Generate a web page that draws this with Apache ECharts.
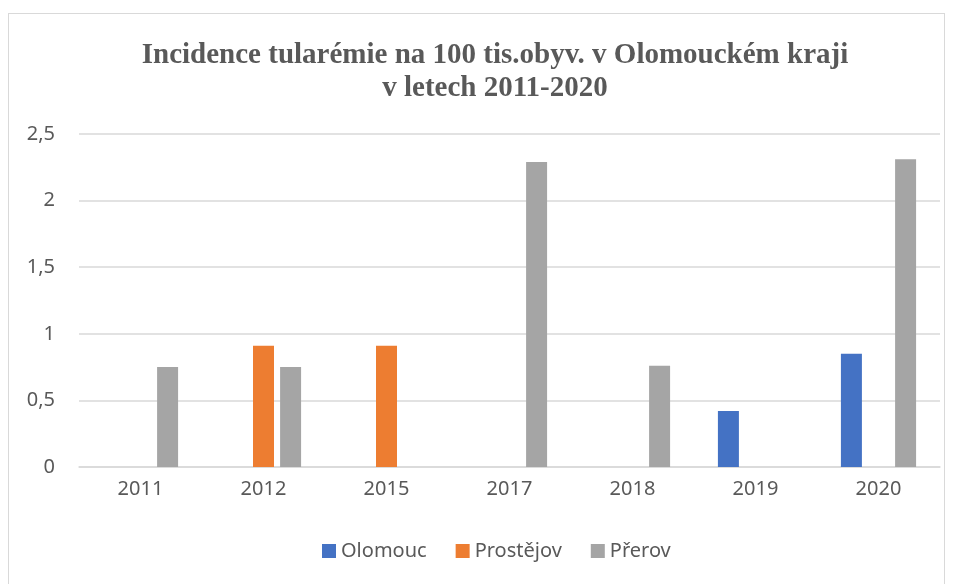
<!DOCTYPE html>
<html>
<head>
<meta charset="utf-8">
<script src="https://cdn.jsdelivr.net/npm/echarts@6/dist/echarts.min.js"></script>
<style>
  html, body { margin: 0; padding: 0; background: #fff; }
  #frame {
    position: absolute; left: 8px; top: 13px; width: 937px; height: 580px;
    border: 1px solid #d9d9d9; box-sizing: border-box;
  }
  #chart { position: absolute; left: 0; top: 0; width: 960px; height: 584px; }
</style>
</head>
<body>
<div id="frame"></div>
<div id="chart"></div>
<script>
// roky a hodnoty incidence (na 100 tis. obyv.)
const years = ['2011', '2012', '2015', '2017', '2018', '2019', '2020']
const olomouc = [null, null, null, null, null, 0.42, 0.85]
const prostejov = [null, 0.91, 0.91, null, null, null, null]
const prerov = [0.75, 0.75, null, 2.29, 0.76, null, 2.31]

const textColor = '#595959'
const gridColor = '#d9d9d9'
const sans = '"Noto Sans", sans-serif'

const chart = echarts.init(document.getElementById('chart'))
chart.setOption({
  animation: false,
  title: {
    text: 'Incidence tularémie na 100 tis.obyv. v Olomouckém kraji\nv letech 2011-2020',
    left: 490,
    textAlign: 'center',
    top: 34,
    textStyle: {
      fontFamily: '"Liberation Serif", serif',
      fontWeight: 'bold',
      fontSize: 29,
      lineHeight: 33,
      color: textColor
    }
  },
  legend: {
    bottom: 18,
    left: 317,
    itemWidth: 14,
    itemHeight: 14,
    itemGap: 29,
    icon: 'rect',
    textStyle: { fontFamily: sans, fontSize: 20, color: textColor },
    data: ['Olomouc', 'Prostějov', 'Přerov']
  },
  grid: { left: 79, right: 20, top: 134, bottom: 117 },
  xAxis: {
    type: 'category',
    data: years,
    axisLine: { lineStyle: { color: gridColor, width: 1.5 } },
    axisTick: { show: false },
    axisLabel: { fontFamily: sans, fontSize: 20, color: textColor, margin: 12 }
  },
  yAxis: {
    type: 'value',
    min: 0,
    max: 2.5,
    interval: 0.5,
    axisLine: { show: false },
    axisTick: { show: false },
    splitLine: { lineStyle: { color: gridColor, width: 1.5 } },
    axisLabel: {
      fontFamily: sans, fontSize: 20, color: textColor, margin: 24,
      formatter: v => String(v).replace('.', ',')
    }
  },
  series: [
    { name: 'Olomouc', type: 'bar', data: olomouc, barWidth: 21, barGap: '29%', itemStyle: { color: '#4472c4' } },
    { name: 'Prostějov', type: 'bar', data: prostejov, barWidth: 21, barGap: '29%', itemStyle: { color: '#ed7d31' } },
    { name: 'Přerov', type: 'bar', data: prerov, barWidth: 21, barGap: '29%', itemStyle: { color: '#a5a5a5' } }
  ]
})
</script>
</body>
</html>
